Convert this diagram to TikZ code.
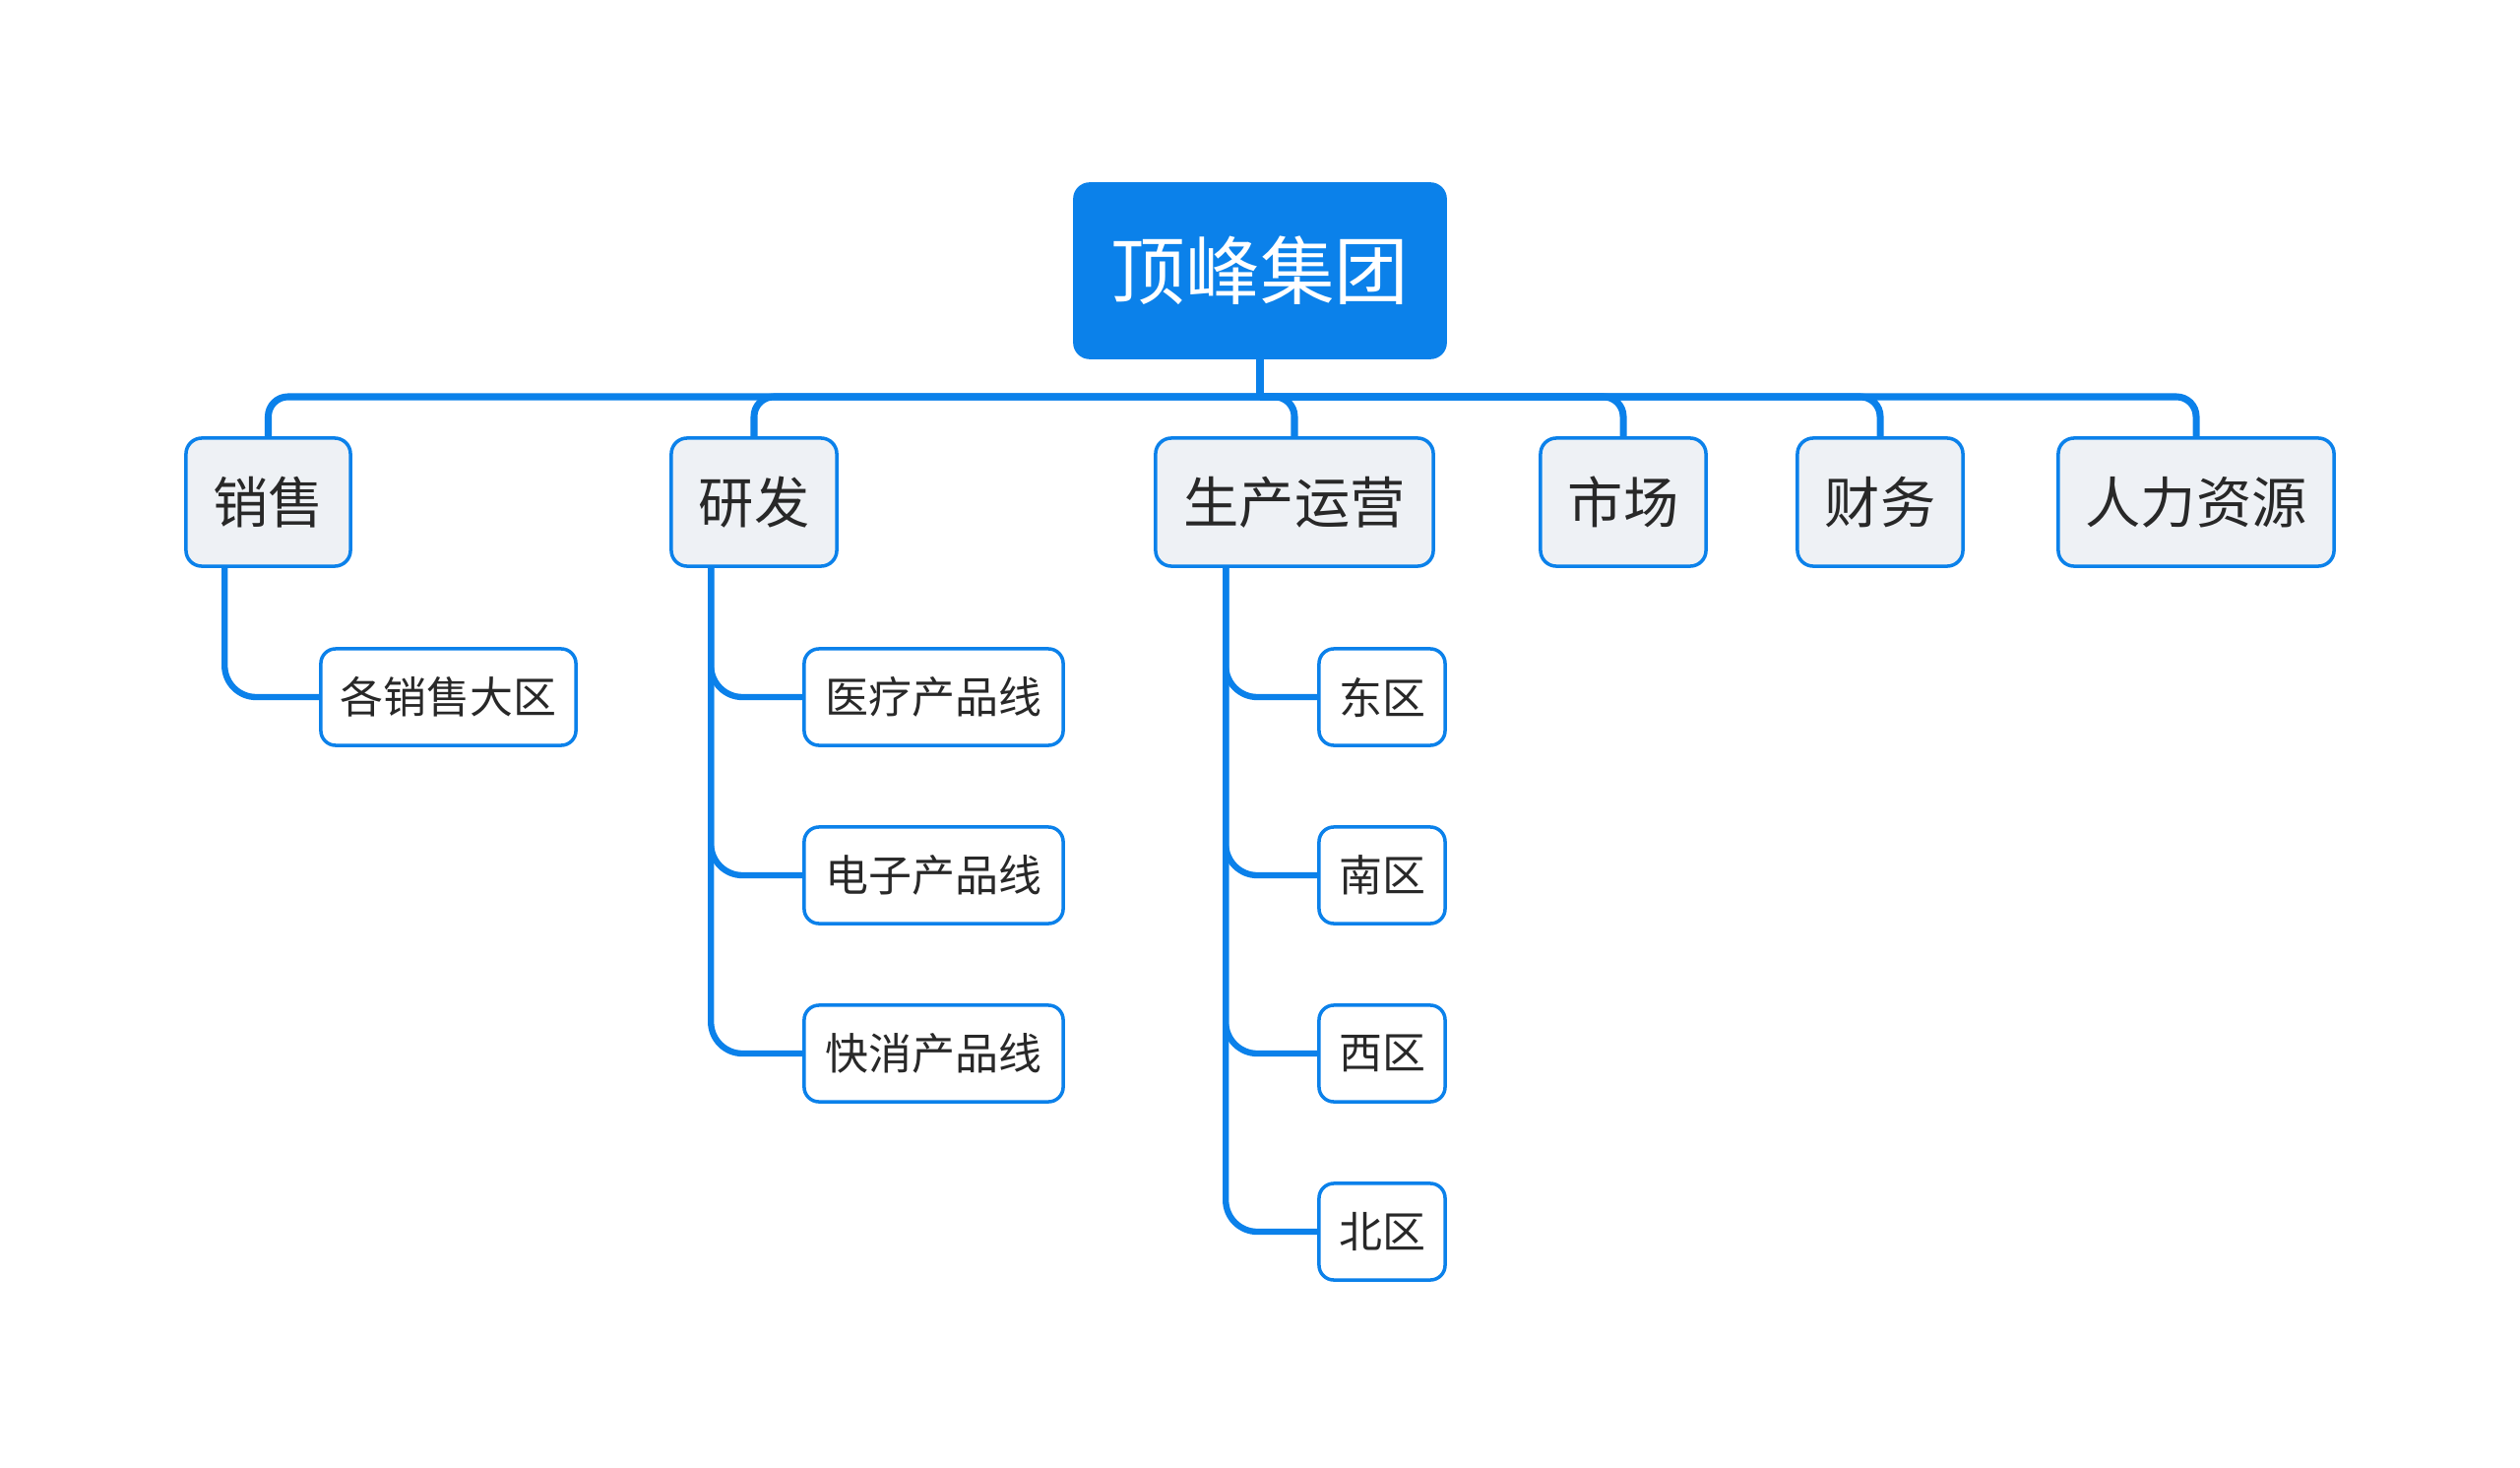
\documentclass[tikz,border=0pt]{standalone}
\usepackage{fontspec}
\setmainfont{Noto Sans CJK SC}
\usetikzlibrary{backgrounds}
\definecolor{mblue}{RGB}{11,129,234}
\definecolor{lfill}{RGB}{238,241,245}
\definecolor{tdark}{RGB}{40,40,40}
\begin{document}
\begin{tikzpicture}[x=0.01cm,y=-0.01cm,
  rootbox/.style={draw=mblue,fill=mblue,line width=1pt,rounded corners=0.15cm,inner sep=0pt,
    minimum width=3.76cm,minimum height=1.76cm,text=white,font=\fontsize{21.5}{24}\selectfont},
  lonebox/.style={draw=mblue,fill=lfill,line width=1pt,rounded corners=0.16cm,inner sep=0pt,
    minimum height=1.30cm,text=tdark,font=\fontsize{16}{19}\selectfont},
  ltwobox/.style={draw=mblue,fill=white,line width=1pt,rounded corners=0.15cm,inner sep=0pt,
    minimum height=0.98cm,text=tdark,font=\fontsize{12.5}{15}\selectfont},
  conn/.style={draw=mblue,line width=2pt,rounded corners=0.2cm},
  subconn/.style={draw=mblue,line width=1.8pt,rounded corners=0.32cm}]
\useasboundingbox (0,0) rectangle (2560,1491);
\coordinate (bar) at (0,403);
\node[rootbox] (root) at (1280,275) {顶峰集团};
\node[lonebox,minimum width=1.67cm] (xs) at (272.5,510) {销售};
\node[lonebox,minimum width=1.68cm] (yf) at (766,510) {研发};
\node[lonebox,minimum width=2.82cm] (sc) at (1315,510) {生产运营};
\node[lonebox,minimum width=1.68cm] (sh) at (1649,510) {市场};
\node[lonebox,minimum width=1.68cm] (cw) at (1910,510) {财务};
\node[lonebox,minimum width=2.80cm] (rl) at (2231,510) {人力资源};
\node[ltwobox,minimum width=2.59cm] (xsd) at (455.5,708) {各销售大区};
\node[ltwobox,minimum width=2.63cm] (yl) at (948.5,708) {医疗产品线};
\node[ltwobox,minimum width=2.63cm] (dz) at (948.5,889) {电子产品线};
\node[ltwobox,minimum width=2.63cm] (kx) at (948.5,1070) {快消产品线};
\node[ltwobox,minimum width=1.28cm] (dq) at (1404,708) {东区};
\node[ltwobox,minimum width=1.28cm] (nq) at (1404,889) {南区};
\node[ltwobox,minimum width=1.28cm] (xq) at (1404,1070) {西区};
\node[ltwobox,minimum width=1.28cm] (bq) at (1404,1251) {北区};
\begin{scope}[on background layer]
\draw[conn,rounded corners=0] (root.south) -- (root.south |- bar);
\foreach \c in {xs,yf,sc,sh,cw,rl}{
  \draw[conn] (root.south |- bar) -- (\c.north |- bar) -- (\c.north);
}
\draw[subconn] ([xshift=0.41cm]xs.south west) |- (xsd.west);
\foreach \c in {yl,dz,kx}{
  \draw[subconn] ([xshift=0.42cm]yf.south west) |- (\c.west);
}
\foreach \c in {dq,nq,xq,bq}{
  \draw[subconn] ([xshift=0.73cm]sc.south west) |- (\c.west);
}
\end{scope}
\end{tikzpicture}
\end{document}
